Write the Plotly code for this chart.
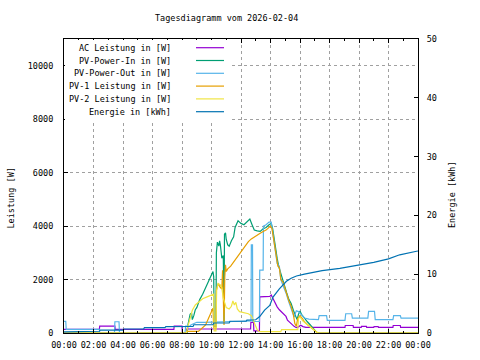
import plotly.graph_objects as go

# ---------------- data (hours since midnight, values) ----------------
ac_h = [0.0, 2.4, 2.42, 3.45, 3.47, 7.45, 7.47, 8.0, 8.02, 8.3, 8.32, 12.65, 12.67, 12.85, 12.87, 13.25,
        13.27, 13.95, 14.05, 14.15, 14.25, 14.35, 14.45, 14.6, 14.75, 14.9, 15.05, 15.15, 15.3, 15.45,
        15.6, 15.75, 15.9, 16.05, 16.2, 16.4, 19.05, 19.07, 19.6, 19.62, 20.15, 20.17, 20.5, 20.52,
        21.0, 21.02, 21.3, 21.32, 22.3, 22.32, 22.8, 22.82, 24.0]
ac_w = [135, 135, 260, 260, 135, 135, 260, 260, 0, 0, 150, 150, 400, 400, 80, 80,
        1350, 1370, 1420, 1300, 1200, 1120, 980, 870, 780, 700, 620, 480, 400, 330,
        250, 200, 230, 290, 240, 210, 210, 280, 280, 210, 210, 250, 250, 210,
        210, 240, 240, 210, 210, 280, 280, 210, 210]

pvin_h = [0.0, 8.35, 8.4, 8.55, 8.65, 8.7, 8.8, 8.9, 9.0, 9.2, 9.4, 9.65, 9.85, 10.0, 10.1, 10.15,
          10.18, 10.3, 10.33, 10.4, 10.5, 10.55, 10.6, 10.7, 10.8, 10.85, 10.88, 10.95, 11.0, 11.1,
          11.2, 11.35, 11.5, 11.6, 11.7, 11.8, 11.9, 12.0, 12.2, 12.4, 12.6, 12.75, 12.9, 13.1, 13.3,
          13.5, 13.7, 13.9, 14.05, 14.15, 14.25, 14.35, 14.45, 14.55, 14.7, 14.8, 14.95, 15.1, 15.25,
          15.4, 15.55, 15.7, 15.8, 15.9, 16.0, 16.1, 16.3, 16.5, 16.7, 16.9, 17.1, 17.2, 24.0]
pvin_w = [0, 0, 300, 700, 750, 500, 650, 870, 950, 1250, 1450, 1750, 1950, 2120, 2300, 2100,
          250, 250, 3000, 3400, 3250, 3450, 3300, 2800, 2900, 400, 3700, 3750, 3500, 3300,
          3250, 3450, 3600, 3950, 4050, 4200, 4150, 4100, 4050, 4150, 4260, 4050, 3850, 3820, 3800,
          3900, 3950, 4050, 4100, 3900, 3500, 3000, 2800, 2500, 2200, 2000, 1700, 1500, 1250,
          1100, 850, 600, 500, 700, 820, 700, 550, 420, 300, 160, 40, 0, 0]

pvout_h = [0.0, 0.12, 0.15, 2.4, 2.42, 3.42, 3.45, 3.73, 3.76, 7.45, 7.5, 8.2, 8.25, 8.55, 8.6,
           8.75, 9.0, 9.5, 10.0, 10.2, 11.0, 12.0, 12.68, 12.7, 12.78, 12.8, 13.25, 13.27, 13.5,
           13.52, 13.7, 13.9, 14.05, 14.15, 14.3, 14.45, 14.6, 14.7, 14.9, 15.05, 15.25, 15.45,
           15.6, 15.75, 15.9, 16.1, 16.3, 16.6, 17.25, 17.3, 17.8, 17.85, 19.05, 19.1, 19.5, 19.55,
           20.6, 20.65, 21.05, 21.1, 22.3, 22.35, 22.8, 22.85, 24.0]
pvout_w = [435, 435, 135, 135, 0, 0, 420, 420, 0, 0, 0, 0, 260, 260, 300,
           330, 400, 400, 410, 430, 430, 440, 450, 3300, 3300, 430, 430, 2350, 2350,
           4000, 4050, 4150, 4150, 3800, 3300, 2600, 2500, 2000, 1700, 1500, 1150, 800,
           600, 830, 800, 680, 560, 520, 500, 650, 650, 470, 470, 720, 720, 560,
           560, 810, 810, 500, 500, 650, 650, 560, 560]

pv1_h = [0.0, 8.3, 8.35, 9.1, 9.3, 9.6, 9.8, 10.0, 10.1, 10.15, 10.3, 10.33, 10.45, 10.6, 10.7,
         10.75, 10.8, 10.85, 10.9, 10.95, 11.0, 11.1, 11.3, 11.5, 11.7, 11.9, 12.1, 12.3, 12.5,
         12.7, 12.9, 13.1, 13.3, 13.5, 13.7, 13.9, 14.0, 14.1, 14.2, 14.3, 14.4, 14.5, 14.6, 14.7,
         14.85, 14.95, 15.1, 15.25, 15.4, 15.55, 15.65, 15.75, 15.85, 16.0, 16.15, 16.3, 16.5,
         16.7, 16.9, 17.1, 17.2, 24.0]
pv1_w = [0, 0, 60, 60, 150, 300, 550, 800, 930, 200, 150, 1600, 1850, 1700, 1650,
         2350, 1500, 300, 2100, 2550, 2300, 2400, 2500, 2650, 2800, 2950, 3100, 3280, 3420,
         3520, 3600, 3680, 3730, 3800, 3850, 3950, 4000, 3900, 3500, 3200, 2900, 2500, 2450, 2000,
         1900, 1700, 1450, 1200, 1000, 700, 350, 250, 550, 650, 550, 420, 320,
         220, 120, 30, 0, 0]

pv2_h = [0.0, 8.3, 8.4, 8.55, 8.7, 8.9, 9.1, 9.4, 9.7, 10.0, 10.15, 10.18, 10.3, 10.35, 10.45,
         10.6, 10.7, 10.8, 10.9, 11.0, 11.2, 11.35, 11.45, 11.55, 11.65, 11.75, 11.9, 12.1, 12.3,
         12.5, 12.7, 12.85, 13.0, 13.1, 13.25, 14.7, 14.75, 15.85, 15.9, 16.0, 16.2, 16.5, 16.8,
         17.1, 17.2, 24.0]
pv2_w = [0, 0, 250, 600, 850, 1050, 1150, 1280, 1350, 1430, 1450, 80, 80, 1600, 1850,
         1800, 1700, 1300, 1100, 950, 900, 1000, 1200, 1050, 1150, 900, 800, 780, 750,
         720, 650, 450, 250, 120, 50, 50, 125, 125, 550, 600, 450, 320, 180,
         40, 0, 0]

en_h = [0.0, 1.5, 1.55, 2.4, 2.45, 4.0, 4.05, 5.4, 5.45, 6.85, 6.9, 7.6, 8.0, 8.75, 8.8, 10.1,
        10.15, 11.2, 11.25, 12.35, 12.4, 13.0, 13.27, 13.6, 13.95, 14.17, 14.6, 15.08, 15.4, 15.76,
        16.3, 16.9, 17.5, 18.7, 20.0, 21.0, 22.0, 22.76, 23.9, 24.0]
en_kwh = [0.2, 0.2, 0.3, 0.3, 0.5, 0.5, 0.68, 0.68, 0.9, 0.9, 1.07, 1.07, 1.12, 1.12, 1.4, 1.4,
          1.7, 1.7, 2.0, 2.0, 2.2, 2.25, 2.8, 3.9, 4.7, 6.1, 7.5, 8.8, 9.3, 9.7,
          10.0, 10.3, 10.6, 11.0, 11.6, 12.0, 12.6, 13.3, 13.9, 13.95]

series_names = ["AC Leistung in [W]", "PV-Power-In in [W]", "PV-Power-Out in [W]",
                "PV-1 Leistung in [W]", "PV-2 Leistung in [W]", "Energie in [kWh]"]
series_colors = ["#9400D3", "#009E73", "#56B4E9", "#E69F00", "#F0E442", "#0072B2"]

x_tickvals = list(range(0, 25, 2))
x_ticktext = ["00:00", "02:00", "04:00", "06:00", "08:00", "10:00", "12:00",
              "14:00", "16:00", "18:00", "20:00", "22:00", "00:00"]
y_tickvals = [0, 2000, 4000, 6000, 8000, 10000]
y_ticktext = ["0", "2000", "4000", "6000", "8000", "10000"]
y2_tickvals = [0, 10, 20, 30, 40, 50]

title_text = "Tagesdiagramm vom 2026-02-04"
ylabel = "Leistung [W]"
y2label = "Energie [kWh]"

# ---------------- figure ----------------
FONT = "DejaVu Sans Mono"
FS = 8.5
W, H = 480, 360
# plot area in page pixels
PL, PR, PT, PB = 64, 418, 39, 333
L, T, R, B = PL, PT, W - PR, H - PB
pw, ph = PR - PL, PB - PT


def px(x):
    return (x - PL) / pw


def py(y):
    return (PB - y) / ph


fig = go.Figure()
data_sets = [(ac_h, ac_w, "y"), (pvin_h, pvin_w, "y"), (pvout_h, pvout_w, "y"),
             (pv1_h, pv1_w, "y"), (pv2_h, pv2_w, "y"), (en_h, en_kwh, "y2")]
for (xs, ys, ax), name, col in zip(data_sets, series_names, series_colors):
    fig.add_trace(go.Scatter(x=xs, y=ys, mode="lines", name=name, yaxis=ax,
                             line=dict(color=col, width=1.2), showlegend=False,
                             hoverinfo="skip"))

shapes = []
annotations = []
# legend background box
shapes.append(dict(type="rect", xref="paper", yref="paper", x0=px(65), x1=px(229),
                   y0=py(122), y1=py(40), fillcolor="white", line=dict(width=0), layer="above"))
row_y = [47.7, 60.5, 73.3, 86.1, 98.9, 111.7]
for name, col, ry in zip(series_names, series_colors, row_y):
    annotations.append(dict(text=name, xref="paper", yref="paper", x=px(172.5), y=py(ry),
                            xanchor="right", yanchor="middle", showarrow=False,
                            font=dict(family=FONT, size=FS, color="black")))
    shapes.append(dict(type="line", xref="paper", yref="paper", x0=px(196), x1=px(224),
                       y0=py(ry), y1=py(ry), line=dict(color=col, width=1.2), layer="above"))

annotations.append(dict(text=title_text, xref="paper", yref="paper", x=px(226), y=py(18),
                        xanchor="center", yanchor="middle", showarrow=False,
                        font=dict(family=FONT, size=FS, color="black")))
annotations.append(dict(text=ylabel, xref="paper", yref="paper", x=px(10.5), y=py(198),
                        xanchor="center", yanchor="middle", showarrow=False, textangle=-90,
                        font=dict(family=FONT, size=FS, color="black")))
annotations.append(dict(text=y2label, xref="paper", yref="paper", x=px(452), y=py(194),
                        xanchor="center", yanchor="middle", showarrow=False, textangle=-90,
                        font=dict(family=FONT, size=FS, color="black")))

grid = dict(gridcolor="#a0a0a0", griddash="dot", gridwidth=1)
fig.update_layout(
    width=W, height=H, margin=dict(l=L, r=R, t=T, b=B, autoexpand=False),
    paper_bgcolor="white", plot_bgcolor="white",
    font=dict(family=FONT, size=FS, color="black"),
    shapes=shapes, annotations=annotations, showlegend=False,
    xaxis=dict(range=[0, 24], tickvals=x_tickvals, ticktext=x_ticktext, ticks="inside",
               ticklen=4, tickcolor="black", showline=True, linecolor="black", linewidth=1,
               mirror="ticks", showgrid=True, zeroline=False, ticklabelstandoff=4,
               minor=dict(dtick=1, tick0=0, ticks="inside", ticklen=2, tickcolor="black",
                          showgrid=False),
               tickfont=dict(family=FONT, size=FS, color="black"), **grid),
    yaxis=dict(range=[0, 11000], tickvals=y_tickvals, ticktext=y_ticktext, ticks="inside",
               ticklen=4, tickcolor="black", showline=True, linecolor="black", linewidth=1,
               mirror=True, showgrid=True, zeroline=False, ticklabelstandoff=8,
               tickfont=dict(family=FONT, size=FS, color="black"), **grid),
    yaxis2=dict(range=[0, 50], tickvals=y2_tickvals, overlaying="y", side="right",
                ticks="inside", ticklen=4, tickcolor="black", showline=True, linecolor="black",
                linewidth=1, showgrid=False, zeroline=False, ticklabelstandoff=6,
                tickfont=dict(family=FONT, size=FS, color="black")),
)

fig.write_html("out.html", config={"displayModeBar": False},
               post_script="document.body.style.margin='0';")
